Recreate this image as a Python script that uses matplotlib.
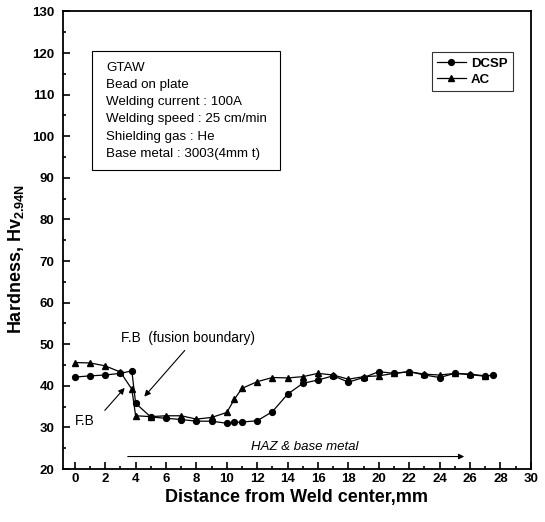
import numpy as np
import matplotlib
matplotlib.use("Agg")
import matplotlib.pyplot as plt
from matplotlib.patches import Rectangle
from matplotlib.ticker import MultipleLocator

plt.rcParams['font.family'] = ['Liberation Sans', 'DejaVu Sans']

# Dados
dcsp_x = [0, 1, 2, 3, 3.75, 4, 5, 6, 7, 8, 9, 10, 10.5, 11, 12, 13, 14, 15, 16,
          17, 18, 19, 20, 21, 22, 23, 24, 25, 26, 27, 27.5]
dcsp_y = [42.1, 42.4, 42.6, 43.0, 43.6, 35.8, 32.5, 32.2, 31.9, 31.5, 31.5, 31.0,
          31.2, 31.3, 31.6, 33.8, 38.0, 40.6, 41.4, 42.4, 40.9, 42.0, 43.4, 43.0,
          43.4, 42.6, 42.0, 43.0, 42.7, 42.3, 42.6]
ac_x = [0, 1, 2, 3, 3.75, 4, 5, 6, 7, 8, 9, 10, 10.5, 11, 12, 13, 14, 15, 16,
        17, 18, 19, 20, 21, 22, 23, 24, 25, 26, 27]
ac_y = [45.6, 45.5, 44.8, 43.3, 39.2, 32.8, 32.6, 32.8, 32.8, 32.0, 32.4, 33.6,
        36.8, 39.4, 41.0, 42.0, 41.9, 42.2, 43.0, 42.6, 41.6, 42.2, 42.4, 43.0,
        43.4, 42.8, 42.6, 43.0, 42.8, 42.4]

info_lines = ["GTAW", "Bead on plate", "Welding current : 100A",
              "Welding speed : 25 cm/min", "Shielding gas : He",
              "Base metal : 3003(4mm t)"]

fig = plt.figure(figsize=(5.45, 5.22), dpi=100)
ax = fig.add_axes([0.115, 0.1015, 0.859, 0.8765])

ax.plot(dcsp_x, dcsp_y, color="black", lw=0.9, marker="o", ms=4.2, label="DCSP")
ax.plot(ac_x, ac_y, color="black", lw=0.9, marker="^", ms=4.5, label="AC")

ax.set_xlim(-0.8, 30)
ax.set_ylim(20, 130)
ax.xaxis.set_major_locator(MultipleLocator(2))
ax.xaxis.set_minor_locator(MultipleLocator(1))
ax.yaxis.set_major_locator(MultipleLocator(10))
ax.yaxis.set_minor_locator(MultipleLocator(5))
ax.tick_params(which="both", direction="in", width=1.2, top=False, right=False)
ax.tick_params(which="major", length=5)
ax.tick_params(which="minor", length=2.5)
ax.tick_params(axis="x", pad=3, labelsize=9.5)
ax.tick_params(axis="y", pad=6, labelsize=9.5)
for lab in ax.get_xticklabels() + ax.get_yticklabels():
    lab.set_fontweight("bold")
for sp in ax.spines.values():
    sp.set_linewidth(1.3)

ax.set_xlabel("Distance from Weld center,mm", fontsize=13, fontweight="bold", labelpad=3)
ax.set_ylabel(r"Hardness, Hv$_{\mathregular{2.94N}}$", fontsize=13, fontweight="bold")
ax.yaxis.set_label_coords(-0.078, 0.46)

# caixa de condições
ax.add_patch(Rectangle((1.1, 91.8), 12.4, 28.8, fill=False, lw=0.8, ec="black"))
ax.text(2.08, 117.9, "\n".join(info_lines), fontsize=9.6, va="top", ha="left",
        linespacing=1.58)

leg = ax.legend(loc="upper right", bbox_to_anchor=(0.962, 0.911), fontsize=9.5,
                frameon=True, fancybox=False, edgecolor="black", handlelength=2.2,
                borderpad=0.4, labelspacing=0.3, handletextpad=0.4, borderaxespad=0)
leg.get_frame().set_linewidth(0.8)
for t in leg.get_texts():
    t.set_fontweight("bold")

arrow = dict(arrowstyle="-|>", color="black", lw=0.8, mutation_scale=9)
ax.text(3.05, 51.6, "F.B  (fusion boundary)", fontsize=9.8, va="center", ha="left")
ax.annotate("", xy=(4.45, 36.9), xytext=(7.35, 49.0), arrowprops=arrow)
ax.text(0.0, 31.6, "F.B", fontsize=9.8, va="center", ha="left")
ax.annotate("", xy=(3.4, 40.0), xytext=(1.85, 33.6), arrowprops=arrow)

ax.text(15.1, 25.3, "HAZ & base metal", fontsize=9.5, style="italic", ha="center", va="center")
ax.annotate("", xy=(25.8, 23.0), xytext=(3.3, 23.0),
            arrowprops=dict(arrowstyle="-|>", color="black", lw=0.8, mutation_scale=8))

fig.savefig("out.png", dpi=100)
